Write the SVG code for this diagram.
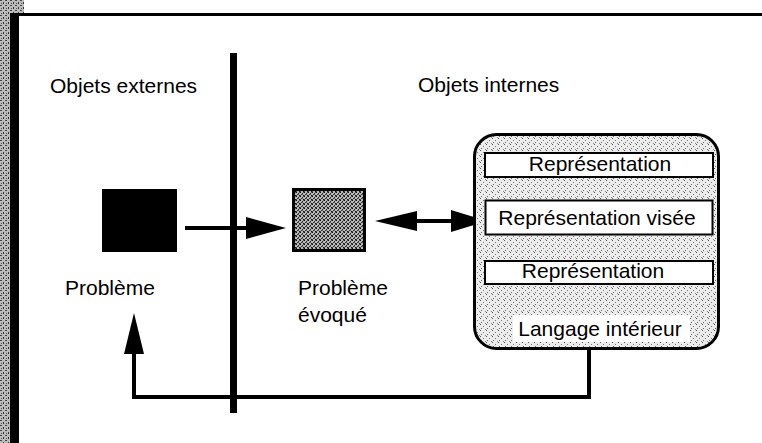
<svg xmlns="http://www.w3.org/2000/svg" width="762" height="443" viewBox="0 0 762 443">
<defs>
<style>
text{font-family:"Liberation Sans",Arial,sans-serif;font-size:21px;fill:#000}
.ln{stroke:#000;stroke-width:4;fill:none}
.row{fill:#fff;stroke:#000;stroke-width:2}
</style>
<pattern id="dk" width="4" height="4" patternUnits="userSpaceOnUse">
<rect width="4" height="4" fill="#b8b8b8"/>
<rect x="0" y="0" width="1" height="1" fill="#111"/><rect x="2" y="1" width="1" height="1" fill="#222"/>
<rect x="1" y="2" width="1" height="1" fill="#333"/><rect x="3" y="3" width="1" height="1" fill="#111"/>
<rect x="3" y="0" width="1" height="1" fill="#555"/><rect x="0" y="3" width="1" height="1" fill="#444"/>
<rect x="2" y="2" width="1" height="1" fill="#666"/>
</pattern>
<pattern id="lt" width="6" height="6" patternUnits="userSpaceOnUse">
<rect width="6" height="6" fill="#ececec"/>
<rect x="0" y="0" width="1" height="1" fill="#555"/><rect x="3" y="2" width="1" height="1" fill="#777"/>
<rect x="1" y="4" width="1" height="1" fill="#666"/><rect x="5" y="5" width="1" height="1" fill="#888"/>
</pattern>
<pattern id="edge" width="5" height="5" patternUnits="userSpaceOnUse">
<rect width="5" height="5" fill="#bbb"/>
<rect x="0" y="0" width="2" height="1" fill="#444"/><rect x="3" y="2" width="1" height="2" fill="#333"/>
<rect x="1" y="3" width="1" height="1" fill="#555"/>
</pattern>
</defs>
<rect width="762" height="443" fill="#fff"/>
<g id="frame">
<rect x="0" y="0" width="11" height="443" fill="url(#edge)"/>
<rect x="0" y="0" width="24" height="15" fill="url(#edge)"/>
<rect x="10" y="14" width="9" height="429" fill="#000"/>
<rect x="10" y="13" width="752" height="3" fill="#000"/>
</g>
<g id="divider">
<rect x="230" y="53" width="7" height="360" fill="#000"/>
</g>
<g id="labels">
<text x="50" y="93">Objets externes</text>
<text x="418" y="92">Objets internes</text>
</g>
<g id="connectors">
<line class="ln" x1="185" y1="228" x2="250" y2="228"/>
<polygon points="246,217 286,228 246,239" fill="#000"/>
<line class="ln" x1="410" y1="221" x2="456" y2="221"/>
<polygon points="375,221 417,211 417,231" fill="#000"/>
<polygon points="487,221 451,210 451,232" fill="#000"/>
<polyline class="ln" points="589,348 589,397 134,397 134,350"/>
<polygon points="134,313 124,354 144,354" fill="#000"/>
</g>
<g id="probleme">
<rect x="102" y="189" width="75" height="63" fill="#000"/>
<text x="65" y="295">Problème</text>
</g>
<g id="probleme-evoque">
<rect x="293.5" y="189.5" width="71" height="61" fill="url(#dk)" stroke="#000" stroke-width="3"/>
<text x="298" y="295">Problème</text>
<text x="298" y="322">évoqué</text>
</g>
<g id="interne">
<rect x="474.5" y="134.5" width="244" height="214" rx="22" fill="url(#lt)" stroke="#000" stroke-width="3"/>
<g id="rep1">
<rect class="row" x="485" y="153" width="228" height="24"/>
<text x="600" y="171" text-anchor="middle">Représentation</text>
</g>
<g id="rep-visee">
<rect class="row" x="485.5" y="200.5" width="227" height="34" stroke-width="3"/>
<text x="597" y="225" text-anchor="middle">Représentation visée</text>
</g>
<g id="rep2">
<rect class="row" x="485" y="261" width="228" height="23"/>
<text x="593" y="278" text-anchor="middle">Représentation</text>
</g>
<g id="langage">
<rect x="513" y="315" width="177" height="27" fill="#fff"/>
<text x="600" y="336" text-anchor="middle">Langage intérieur</text>
</g>
</g>
</svg>
